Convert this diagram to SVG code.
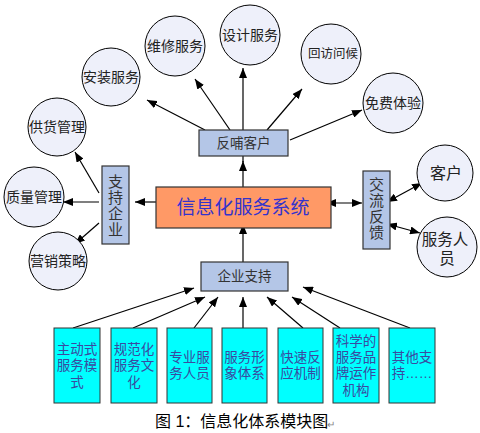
<svg xmlns="http://www.w3.org/2000/svg" width="480" height="433" viewBox="0 0 480 433">
<defs>
<marker id="ah" markerUnits="userSpaceOnUse" markerWidth="10" markerHeight="8" refX="10" refY="4" orient="auto-start-reverse">
<path d="M0,0 L10,4 L0,8 z" fill="#000"/>
</marker>
<style>
text{font-family:"Liberation Sans","Noto Sans CJK SC",sans-serif;text-anchor:middle}
.c{fill:#eef0fa;stroke:#000;stroke-width:1}
.ct{font-size:14px;fill:#222}
.b{fill:#b4c6e7;stroke:#333;stroke-width:1.2}
.bt{font-size:13.5px;fill:#333}
.v{font-size:15px;fill:#333;writing-mode:vertical-rl;letter-spacing:1px;font-family:"Noto Sans CJK SC",sans-serif}
.q{fill:#00ffff;stroke:#333;stroke-width:1}
.qt{font-size:13.5px;fill:#3a4aa0}
.a{stroke:#000;stroke-width:1.2;fill:none;marker-end:url(#ah)}
.d{stroke:#000;stroke-width:1.2;fill:none;marker-end:url(#ah);marker-start:url(#ah)}
.l{stroke:#000;stroke-width:1.2;fill:none}
</style>
</defs>
<rect width="480" height="433" fill="#fff"/>
<g id="connectors">
<line class="a" x1="205" y1="130" x2="147" y2="100"/>
<line class="a" x1="230" y1="130" x2="195" y2="79"/>
<line class="a" x1="243" y1="130" x2="243" y2="68"/>
<line class="a" x1="267" y1="130" x2="302" y2="89"/>
<line class="a" x1="290" y1="140" x2="362" y2="110"/>
<line class="l" x1="243" y1="162" x2="243" y2="156"/>
<line class="a" x1="243" y1="187" x2="243" y2="161"/>
<line class="a" x1="156" y1="202" x2="135" y2="202"/>
<line class="a" x1="99" y1="202" x2="63" y2="202"/>
<line class="a" x1="99" y1="193" x2="75" y2="152"/>
<line class="a" x1="99" y1="223" x2="75" y2="244"/>
<line class="d" x1="326" y1="203" x2="362" y2="203"/>
<line class="d" x1="387" y1="202" x2="422" y2="183"/>
<line class="d" x1="387" y1="224" x2="420" y2="233"/>
<line class="a" x1="243" y1="262" x2="243" y2="224"/>
<line class="a" x1="73" y1="328" x2="194" y2="288"/>
<line class="a" x1="133" y1="328" x2="205" y2="297"/>
<line class="a" x1="194" y1="328" x2="218" y2="297"/>
<line class="a" x1="243" y1="328" x2="243" y2="297"/>
<line class="a" x1="303" y1="328" x2="267" y2="297"/>
<line class="a" x1="340" y1="328" x2="292" y2="297"/>
<line class="a" x1="410" y1="328" x2="303" y2="287"/>
</g>
<g id="n-gonghuo"><circle class="c" cx="57" cy="127" r="29"/><text class="ct" x="57" y="132">供货管理</text></g>
<g id="n-anzhuang"><circle class="c" cx="111" cy="77" r="29"/><text class="ct" x="111" y="82">安装服务</text></g>
<g id="n-weixiu"><circle class="c" cx="175" cy="46" r="30"/><text class="ct" x="175" y="51">维修服务</text></g>
<g id="n-sheji"><circle class="c" cx="250" cy="35" r="30"/><text class="ct" x="250" y="40">设计服务</text></g>
<g id="n-huifang"><circle class="c" cx="331" cy="54" r="30"/><text class="ct" x="333" y="58" style="font-size:12.5px">回访问候</text></g>
<g id="n-mianfei"><circle class="c" cx="393" cy="103" r="30"/><text class="ct" x="393" y="108">免费体验</text></g>
<g id="n-zhiliang"><circle class="c" cx="34" cy="197" r="30"/><text class="ct" x="34" y="202">质量管理</text></g>
<g id="n-yingxiao"><circle class="c" cx="58" cy="261" r="29"/><text class="ct" x="58" y="266">营销策略</text></g>
<g id="n-kehu"><circle class="c" cx="445" cy="173" r="28"/><text class="ct" x="446" y="179" style="font-size:16px">客户</text></g>
<g id="n-fuwurenyuan"><circle class="c" cx="447" cy="247" r="30"/><text class="ct" style="font-size:15.5px"><tspan x="445" y="245">服务人</tspan><tspan x="447" y="264">员</tspan></text></g>
<g id="n-fanbu"><rect class="b" x="199" y="130" width="89" height="26"/><text class="bt" x="243.5" y="148">反哺客户</text></g>
<g id="n-xinxihua"><rect x="156" y="187" width="175" height="41" fill="#ff9966" stroke="#333" stroke-width="1.2"/><text x="243" y="214" style="font-size:19px;fill:#3333cc">信息化服务系统</text></g>
<g id="n-zhichiqiye"><rect class="b" x="102" y="166" width="27" height="78"/><text class="v" x="115.5" y="206">支持企业</text></g>
<g id="n-jiaoliu"><rect class="b" x="363" y="171" width="27" height="78"/><text class="v" x="376.5" y="209">交流反馈</text></g>
<g id="n-qiyezhichi"><rect class="b" x="201" y="262" width="87" height="29"/><text class="bt" x="244.5" y="281">企业支持</text></g>
<g id="n-b1"><rect class="q" x="54" y="328" width="46" height="75"/><text class="qt"><tspan x="77" y="354">主动式</tspan><tspan x="77" y="370">服务模</tspan><tspan x="77" y="387">式</tspan></text></g>
<g id="n-b2"><rect class="q" x="111" y="328" width="46" height="75"/><text class="qt"><tspan x="134" y="354">规范化</tspan><tspan x="134" y="370">服务文</tspan><tspan x="134" y="387">化</tspan></text></g>
<g id="n-b3"><rect class="q" x="167" y="328" width="45" height="75"/><text class="qt"><tspan x="189.5" y="362">专业服</tspan><tspan x="189.5" y="378">务人员</tspan></text></g>
<g id="n-b4"><rect class="q" x="222" y="328" width="45" height="75"/><text class="qt"><tspan x="244.5" y="362">服务形</tspan><tspan x="244.5" y="378">象体系</tspan></text></g>
<g id="n-b5"><rect class="q" x="278" y="328" width="45" height="75"/><text class="qt"><tspan x="300.5" y="362">快速反</tspan><tspan x="300.5" y="378">应机制</tspan></text></g>
<g id="n-b6"><rect class="q" x="333" y="328" width="46" height="75"/><text class="qt"><tspan x="356" y="346">科学的</tspan><tspan x="356" y="362">服务品</tspan><tspan x="356" y="378">牌运作</tspan><tspan x="356" y="395">机构</tspan></text></g>
<g id="n-b7"><rect class="q" x="389" y="328" width="46" height="75"/><text class="qt"><tspan x="412" y="362">其他支</tspan><tspan x="412" y="378">持……</tspan></text></g>
<g id="caption"><text x="155" y="427" style="font-size:16px;fill:#000;text-anchor:start">图 1：信息化体系模块图</text><text x="327" y="428" style="font-size:10px;fill:#888;text-anchor:start">↵</text></g>
</svg>
